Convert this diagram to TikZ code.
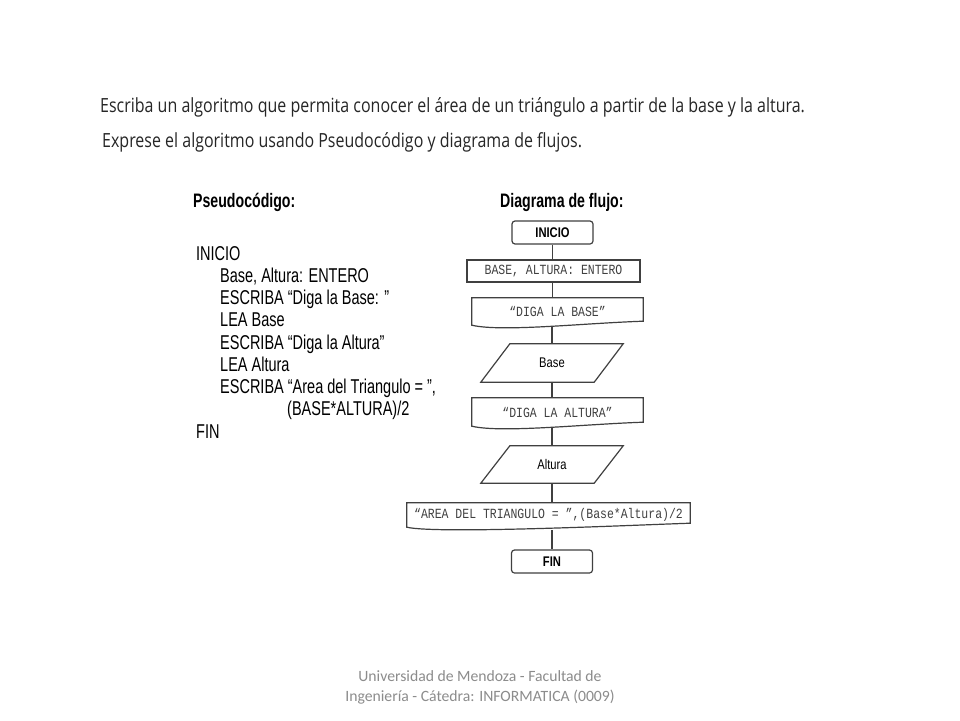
\documentclass[tikz,border=0pt]{standalone}
\usepackage{fontspec}
\setmainfont{Liberation Sans}
\newfontfamily\titlefont[FakeStretch=0.82]{Open Sans}
\newfontfamily\pseudofont[FakeStretch=0.725]{Liberation Sans}
\newfontfamily\chartsans[FakeStretch=0.8]{Liberation Sans}
\newfontfamily\chartmono[FakeStretch=0.82]{Liberation Mono}
\newfontfamily\footfont{Carlito}
\definecolor{linec}{HTML}{404040}
\definecolor{monoc}{HTML}{404040}
\definecolor{footc}{HTML}{8C8C8C}
\definecolor{titlec}{HTML}{262626}
\newcommand\mydoc[1]{\draw[flowline] (#1.south west) -- (#1.north west) -- (#1.north east) -- ([yshift=4pt]#1.south east) .. controls ([xshift=-60pt,yshift=2pt]#1.south east) and ([xshift=30pt,yshift=-7pt]#1.south west) .. (#1.south west) -- cycle;}
\newcommand\mypar[1]{\draw[flowline] (#1.south west) -- ([xshift=29pt]#1.north west) -- (#1.north east) -- ([xshift=-29pt]#1.south east) -- cycle;}
\begin{document}
\begin{tikzpicture}[x=1pt,y=-1pt,
  titletxt/.style={anchor=base west, inner sep=0, text=titlec, font=\titlefont\fontsize{19.5}{22}\selectfont},
  pseudo/.style={anchor=base west, inner sep=0, font=\pseudofont\fontsize{20}{22}\selectfont},
  headtxt/.style={anchor=base west, inner sep=0, font=\pseudofont\bfseries\fontsize{19.5}{22}\selectfont},
  flowline/.style={draw=linec, line width=1.2pt},
  termbox/.style={flowline, rounded corners=3pt, inner sep=0, font=\chartsans\bfseries\fontsize{14}{16}\selectfont},
  procbox/.style={flowline, inner sep=0, text=monoc, font=\chartmono\fontsize{14}{16}\selectfont},
  docbox/.style={draw=none, inner sep=0, text=monoc, font=\chartmono\fontsize{14}{16}\selectfont},
  iobox/.style={draw=none, inner sep=0, font=\chartsans\fontsize{14}{16}\selectfont},
  foot/.style={align=center, inner sep=0, text=footc, font=\footfont\fontsize{15.7}{20}\selectfont}
]
\fill[white] (0,0) rectangle (960,720);
\useasboundingbox (0,0) rectangle (960,720);

\node[titletxt] (t1) at (100,112) {Escriba un algoritmo que permita conocer el área de un triángulo a partir de la base y la altura.};
\node[titletxt] (t2) at (102,147) {Exprese el algoritmo usando Pseudocódigo y diagrama de flujos.};

\node[headtxt] (h1) at (193,207) {Pseudocódigo:};
\node[headtxt] (h2) at (500,207) {Diagrama de flujo:};

\node[pseudo] (p1) at (196,260) {INICIO};
\node[pseudo] (p2) at (220,282.25) {Base, Altura: ENTERO};
\node[pseudo] (p3) at (220,304.5) {ESCRIBA “Diga la Base: ”};
\node[pseudo] (p4) at (220,326.75) {LEA Base};
\node[pseudo] (p5) at (220,349) {ESCRIBA “Diga la Altura”};
\node[pseudo] (p6) at (220,371.25) {LEA Altura};
\node[pseudo] (p7) at (220,393.5) {ESCRIBA “Area del Triangulo = ”,};
\node[pseudo] (p8) at (287,415.75) {(BASE*ALTURA)/2};
\node[pseudo] (p9) at (196,438) {FIN};

\node[termbox, minimum width=81pt, minimum height=23pt] (inicio) at (552.5,232.5) {INICIO};
\node[procbox, minimum width=173pt, minimum height=22pt] (decl) at (553.5,271) {BASE, ALTURA: ENTERO};
\node[docbox, minimum width=171pt, minimum height=27pt] (doc1) at (557.5,311.5) {“DIGA LA BASE”};
\node[iobox, minimum width=142pt, minimum height=38pt] (base) at (552,363) {Base};
\node[docbox, minimum width=171pt, minimum height=28pt] (doc2) at (557.5,412) {“DIGA LA ALTURA”};
\node[iobox, minimum width=142pt, minimum height=37pt] (altura) at (552,464.5) {Altura};
\node[docbox, minimum width=283pt, minimum height=24pt] (doc3) at (548.5,515) {“AREA DEL TRIANGULO = ”,(Base*Altura)/2};
\node[termbox, minimum width=81pt, minimum height=23pt] (fin) at (552,561.5) {FIN};

\mydoc{doc1}
\mydoc{doc2}
\mydoc{doc3}
\mypar{base}
\mypar{altura}

\draw[flowline] (inicio.south) -- (inicio.south |- decl.north);
\draw[flowline] (decl.south -| inicio.south) -- (inicio.south |- doc1.north);
\draw[flowline, shorten <=2pt] (doc1.south -| base.north) -- (base.north);
\draw[flowline] (base.south) -- (base.south |- doc2.north);
\draw[flowline, shorten <=2pt] (doc2.south -| altura.north) -- (altura.north);
\draw[flowline] (altura.south) -- (altura.south |- doc3.north);
\draw[flowline, shorten <=3pt] (doc3.south -| fin.north) -- (fin.north);

\node[foot] (f) at (480,687) {Universidad de Mendoza - Facultad de\\Ingeniería - Cátedra: INFORMATICA (0009)};
\end{tikzpicture}
\end{document}
